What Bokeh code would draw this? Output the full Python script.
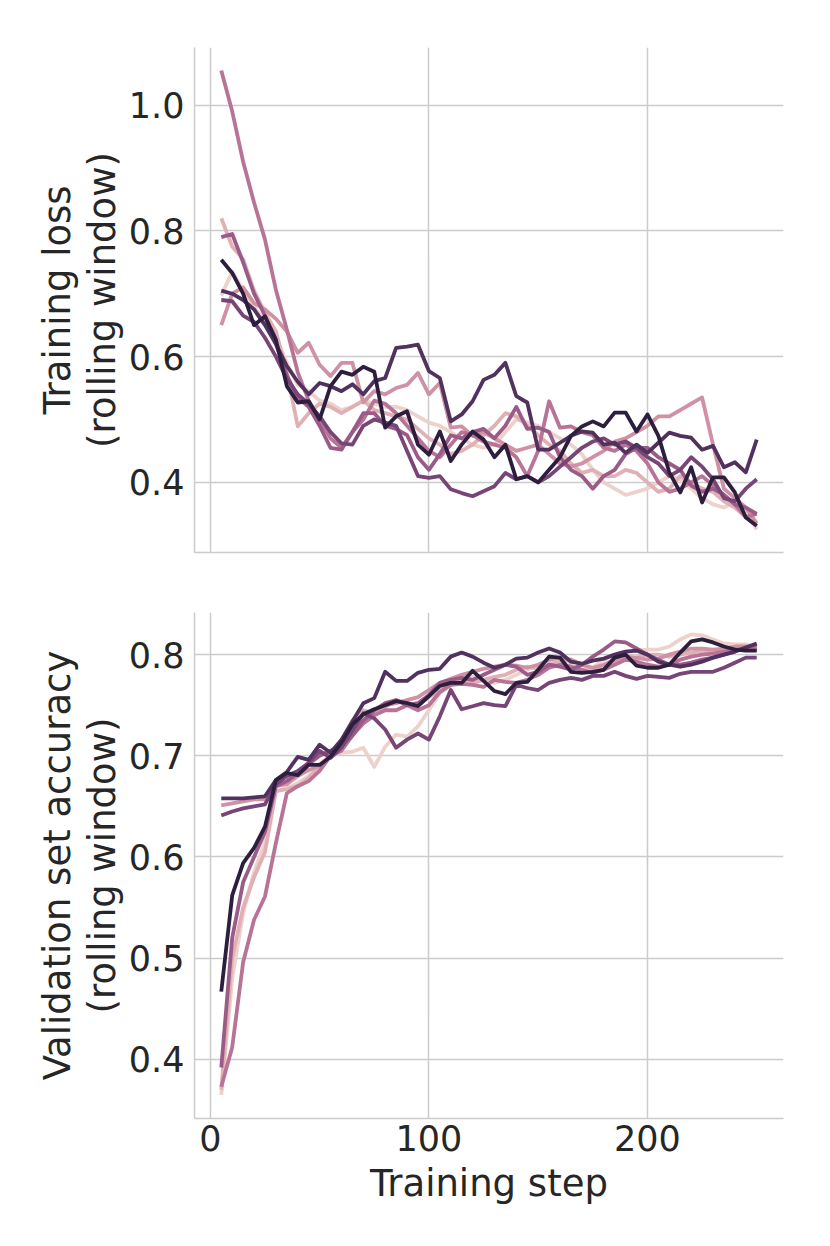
import numpy as np
from bokeh.plotting import figure
from bokeh.layouts import column
from bokeh.models import FixedTicker, Range1d
from bokeh.embed import file_html
from bokeh.resources import INLINE

steps = [5, 10, 15, 20, 25, 30, 35, 40, 45, 50, 55, 60, 65, 70, 75, 80, 85, 90, 95, 100,
         105, 110, 115, 120, 125, 130, 135, 140, 145, 150, 155, 160, 165, 170, 175, 180, 185, 190, 195, 200,
         205, 210, 215, 220, 225, 230, 235, 240, 245, 250]

# Training loss per run (run 0 = lightest hue ... run 7 = darkest)
loss_0 = [0.697, 0.735, 0.705, 0.680, 0.655, 0.630, 0.590, 0.555, 0.545, 0.530,
          0.525, 0.515, 0.520, 0.530, 0.525, 0.520, 0.520, 0.515, 0.505, 0.495,
          0.490, 0.480, 0.470, 0.460, 0.455, 0.460, 0.480, 0.500, 0.495, 0.490,
          0.480, 0.470, 0.460, 0.445, 0.420, 0.400, 0.390, 0.380, 0.385, 0.390,
          0.400, 0.410, 0.405, 0.390, 0.375, 0.365, 0.360, 0.370, 0.355, 0.325]
loss_1 = [0.820, 0.775, 0.755, 0.705, 0.670, 0.640, 0.575, 0.489, 0.510, 0.525,
          0.520, 0.510, 0.520, 0.530, 0.515, 0.510, 0.505, 0.500, 0.485, 0.470,
          0.460, 0.445, 0.450, 0.460, 0.475, 0.490, 0.510, 0.505, 0.490, 0.475,
          0.460, 0.450, 0.430, 0.415, 0.420, 0.410, 0.410, 0.420, 0.415, 0.400,
          0.385, 0.390, 0.410, 0.400, 0.390, 0.385, 0.370, 0.360, 0.345, 0.330]
loss_2 = [0.650, 0.700, 0.710, 0.685, 0.675, 0.660, 0.640, 0.606, 0.622, 0.587,
          0.569, 0.590, 0.590, 0.527, 0.545, 0.540, 0.550, 0.555, 0.574, 0.540,
          0.558, 0.487, 0.489, 0.474, 0.480, 0.470, 0.460, 0.450, 0.455, 0.460,
          0.445, 0.430, 0.425, 0.430, 0.440, 0.450, 0.465, 0.470, 0.480, 0.490,
          0.505, 0.505, 0.515, 0.525, 0.535, 0.460, 0.390, 0.375, 0.360, 0.335]
loss_3 = [1.055, 0.990, 0.910, 0.845, 0.786, 0.706, 0.643, 0.575, 0.530, 0.500,
          0.470, 0.455, 0.480, 0.500, 0.530, 0.525, 0.510, 0.490, 0.470, 0.450,
          0.440, 0.460, 0.480, 0.475, 0.465, 0.460, 0.455, 0.440, 0.410, 0.450,
          0.529, 0.487, 0.489, 0.480, 0.475, 0.455, 0.450, 0.460, 0.450, 0.430,
          0.400, 0.385, 0.390, 0.400, 0.410, 0.395, 0.380, 0.365, 0.345, 0.350]
loss_4 = [0.790, 0.795, 0.750, 0.700, 0.665, 0.620, 0.570, 0.535, 0.520, 0.490,
          0.455, 0.452, 0.480, 0.510, 0.510, 0.490, 0.485, 0.475, 0.440, 0.420,
          0.445, 0.475, 0.470, 0.480, 0.485, 0.470, 0.490, 0.520, 0.485, 0.487,
          0.480, 0.440, 0.420, 0.410, 0.390, 0.410, 0.420, 0.445, 0.455, 0.455,
          0.440, 0.430, 0.420, 0.395, 0.385, 0.390, 0.380, 0.365, 0.360, 0.350]
loss_5 = [0.690, 0.688, 0.665, 0.655, 0.630, 0.600, 0.565, 0.540, 0.525, 0.505,
          0.480, 0.462, 0.460, 0.490, 0.500, 0.495, 0.490, 0.450, 0.410, 0.407,
          0.410, 0.389, 0.383, 0.378, 0.386, 0.394, 0.415, 0.405, 0.410, 0.400,
          0.410, 0.425, 0.440, 0.455, 0.465, 0.470, 0.460, 0.465, 0.455, 0.440,
          0.430, 0.410, 0.420, 0.440, 0.425, 0.405, 0.375, 0.370, 0.390, 0.405]
loss_6 = [0.705, 0.700, 0.690, 0.675, 0.650, 0.620, 0.585, 0.560, 0.540, 0.558,
          0.553, 0.545, 0.556, 0.540, 0.561, 0.566, 0.614, 0.616, 0.619, 0.577,
          0.566, 0.497, 0.508, 0.529, 0.563, 0.571, 0.590, 0.537, 0.527, 0.452,
          0.452, 0.463, 0.474, 0.481, 0.479, 0.460, 0.463, 0.447, 0.460, 0.447,
          0.463, 0.479, 0.474, 0.471, 0.452, 0.458, 0.424, 0.432, 0.416, 0.468]
loss_7 = [0.754, 0.733, 0.700, 0.650, 0.664, 0.627, 0.553, 0.527, 0.529, 0.500,
          0.553, 0.576, 0.571, 0.584, 0.576, 0.487, 0.505, 0.513, 0.460, 0.444,
          0.481, 0.434, 0.460, 0.481, 0.468, 0.440, 0.460, 0.405, 0.410, 0.400,
          0.420, 0.440, 0.474, 0.489, 0.497, 0.489, 0.511, 0.511, 0.481, 0.508,
          0.474, 0.416, 0.384, 0.424, 0.368, 0.408, 0.408, 0.384, 0.344, 0.331]

# Validation set accuracy per run
acc_0 = [0.365, 0.480, 0.545, 0.585, 0.615, 0.665, 0.668, 0.673, 0.680, 0.692,
         0.700, 0.703, 0.704, 0.708, 0.689, 0.709, 0.721, 0.719, 0.729, 0.745,
         0.762, 0.770, 0.775, 0.778, 0.775, 0.772, 0.775, 0.780, 0.785, 0.790,
         0.793, 0.795, 0.790, 0.785, 0.787, 0.795, 0.800, 0.803, 0.804, 0.805,
         0.805, 0.808, 0.815, 0.820, 0.819, 0.815, 0.811, 0.810, 0.810, 0.808]
acc_1 = [0.370, 0.500, 0.550, 0.580, 0.605, 0.665, 0.667, 0.670, 0.678, 0.690,
         0.700, 0.715, 0.735, 0.745, 0.742, 0.748, 0.755, 0.752, 0.750, 0.758,
         0.765, 0.770, 0.774, 0.772, 0.775, 0.778, 0.780, 0.785, 0.788, 0.786,
         0.790, 0.793, 0.795, 0.790, 0.786, 0.788, 0.792, 0.795, 0.797, 0.800,
         0.800, 0.798, 0.800, 0.802, 0.804, 0.803, 0.804, 0.805, 0.806, 0.805]
acc_2 = [0.651, 0.653, 0.655, 0.657, 0.657, 0.670, 0.672, 0.680, 0.686, 0.690,
         0.700, 0.712, 0.725, 0.735, 0.745, 0.750, 0.752, 0.755, 0.758, 0.765,
         0.772, 0.776, 0.780, 0.783, 0.786, 0.788, 0.790, 0.789, 0.787, 0.790,
         0.795, 0.797, 0.795, 0.790, 0.787, 0.790, 0.795, 0.798, 0.797, 0.795,
         0.796, 0.800, 0.803, 0.806, 0.806, 0.805, 0.806, 0.808, 0.808, 0.807]
acc_3 = [0.373, 0.412, 0.496, 0.538, 0.561, 0.614, 0.663, 0.670, 0.675, 0.685,
         0.700, 0.705, 0.720, 0.732, 0.740, 0.745, 0.745, 0.750, 0.745, 0.750,
         0.763, 0.770, 0.771, 0.770, 0.768, 0.775, 0.773, 0.772, 0.775, 0.780,
         0.787, 0.790, 0.788, 0.785, 0.782, 0.785, 0.790, 0.795, 0.793, 0.790,
         0.788, 0.790, 0.795, 0.798, 0.800, 0.801, 0.803, 0.805, 0.806, 0.806]
acc_4 = [0.392, 0.520, 0.575, 0.600, 0.625, 0.670, 0.675, 0.683, 0.692, 0.700,
         0.705, 0.710, 0.720, 0.735, 0.745, 0.752, 0.755, 0.750, 0.752, 0.760,
         0.772, 0.775, 0.777, 0.775, 0.780, 0.785, 0.790, 0.788, 0.780, 0.783,
         0.790, 0.788, 0.785, 0.790, 0.798, 0.805, 0.813, 0.812, 0.806, 0.800,
         0.795, 0.790, 0.790, 0.792, 0.795, 0.797, 0.800, 0.803, 0.807, 0.810]
acc_5 = [0.641, 0.645, 0.648, 0.650, 0.652, 0.672, 0.680, 0.685, 0.693, 0.705,
         0.698, 0.708, 0.725, 0.742, 0.737, 0.726, 0.708, 0.716, 0.722, 0.716,
         0.739, 0.765, 0.746, 0.749, 0.752, 0.750, 0.749, 0.770, 0.767, 0.765,
         0.772, 0.775, 0.777, 0.775, 0.779, 0.779, 0.783, 0.779, 0.776, 0.779,
         0.778, 0.777, 0.781, 0.783, 0.783, 0.783, 0.787, 0.792, 0.797, 0.797]
acc_6 = [0.658, 0.658, 0.658, 0.659, 0.660, 0.676, 0.684, 0.699, 0.696, 0.711,
         0.703, 0.716, 0.734, 0.752, 0.757, 0.783, 0.774, 0.774, 0.782, 0.785,
         0.786, 0.798, 0.802, 0.798, 0.792, 0.787, 0.790, 0.796, 0.797, 0.802,
         0.806, 0.802, 0.793, 0.791, 0.794, 0.796, 0.800, 0.803, 0.804, 0.800,
         0.793, 0.790, 0.788, 0.790, 0.793, 0.797, 0.800, 0.803, 0.807, 0.811]
acc_7 = [0.467, 0.562, 0.594, 0.609, 0.630, 0.676, 0.683, 0.681, 0.691, 0.691,
         0.699, 0.713, 0.731, 0.741, 0.746, 0.750, 0.754, 0.752, 0.749, 0.759,
         0.769, 0.772, 0.772, 0.784, 0.774, 0.764, 0.761, 0.772, 0.773, 0.785,
         0.798, 0.797, 0.783, 0.782, 0.783, 0.785, 0.797, 0.800, 0.789, 0.787,
         0.787, 0.790, 0.802, 0.813, 0.815, 0.812, 0.808, 0.805, 0.804, 0.804]

loss_runs = [loss_0, loss_1, loss_2, loss_3, loss_4, loss_5, loss_6, loss_7]
acc_runs = [acc_0, acc_1, acc_2, acc_3, acc_4, acc_5, acc_6, acc_7]

x_ticks = [0, 100, 200]
loss_ticks = [0.4, 0.6, 0.8, 1.0]
acc_ticks = [0.4, 0.5, 0.6, 0.7, 0.8]


def cubehelix_palette(n, start=0.0, rot=0.4, gamma=1.0, hue=0.8, light=0.85, dark=0.15):
    cols = []
    for x in np.linspace(light, dark, n):
        xg = x ** gamma
        a = hue * xg * (1 - xg) / 2
        phi = 2 * np.pi * (start / 3 + rot * x)
        r = xg + a * (-0.14861 * np.cos(phi) + 1.78277 * np.sin(phi))
        g = xg + a * (-0.29227 * np.cos(phi) - 0.90649 * np.sin(phi))
        b = xg + a * (1.97294 * np.cos(phi))
        rgb = [int(round(255 * min(1, max(0, c)))) for c in (r, g, b)]
        cols.append("#%02x%02x%02x" % tuple(rgb))
    return cols


colors = cubehelix_palette(len(loss_runs))

FONT = "DejaVu Sans"
TXT = "#262626"
GRID = "#cccccc"


def style(p, show_x_labels):
    p.outline_line_color = None
    p.background_fill_color = "white"
    p.border_fill_color = "white"
    for ax in (p.xaxis[0], p.yaxis[0]):
        ax.axis_line_color = GRID
        ax.axis_line_width = 1.5
        ax.major_tick_line_color = None
        ax.minor_tick_line_color = None
        ax.major_tick_out = 0
        ax.major_tick_in = 0
        ax.major_label_text_font = FONT
        ax.major_label_text_font_size = "35px"
        ax.major_label_text_color = TXT
        ax.axis_label_text_font = FONT
        ax.axis_label_text_font_size = "37px"
        ax.axis_label_text_font_style = "normal"
        ax.axis_label_text_color = TXT
        ax.axis_label_text_line_height = 1.05
    p.yaxis[0].major_label_standoff = 10
    p.yaxis[0].axis_label_standoff = 2
    p.xaxis[0].major_label_standoff = 6
    p.xaxis[0].axis_label_standoff = 8
    if not show_x_labels:
        p.xaxis[0].major_label_text_color = None
        p.xaxis[0].major_label_text_font_size = "1px"
    for g in (p.xgrid[0], p.ygrid[0]):
        g.grid_line_color = GRID
        g.grid_line_width = 1.5


p1 = figure(width=800, height=582, output_backend="svg", toolbar_location=None,
            x_range=Range1d(-7.25, 262.25), y_range=Range1d(0.2885, 1.0915),
            min_border_left=194, min_border_right=17, min_border_top=47, min_border_bottom=30)
p1.xaxis.ticker = FixedTicker(ticks=x_ticks)
p1.yaxis.ticker = FixedTicker(ticks=loss_ticks)
p1.yaxis.major_label_overrides = {t: "%.1f" % t for t in loss_ticks}
p1.yaxis.axis_label = "Training loss\n(rolling window)"
style(p1, False)
for run, c in zip(loss_runs, colors):
    p1.line(steps, run, line_color=c, line_width=3.8, line_join="round")

p2 = figure(width=800, height=656, output_backend="svg", toolbar_location=None,
            x_range=p1.x_range, y_range=Range1d(0.3416, 0.8416),
            min_border_left=194, min_border_right=17, min_border_top=30, min_border_bottom=120)
p2.xaxis.ticker = FixedTicker(ticks=x_ticks)
p2.yaxis.ticker = FixedTicker(ticks=acc_ticks)
p2.yaxis.major_label_overrides = {t: "%.1f" % t for t in acc_ticks}
p2.yaxis.axis_label = "Validation set accuracy\n(rolling window)"
p2.xaxis.axis_label = "Training step"
style(p2, True)
for run, c in zip(acc_runs, colors):
    p2.line(steps, run, line_color=c, line_width=3.8, line_join="round")

layout = column(p1, p2, spacing=0)
open("out.html", "w").write(file_html(layout, INLINE))
